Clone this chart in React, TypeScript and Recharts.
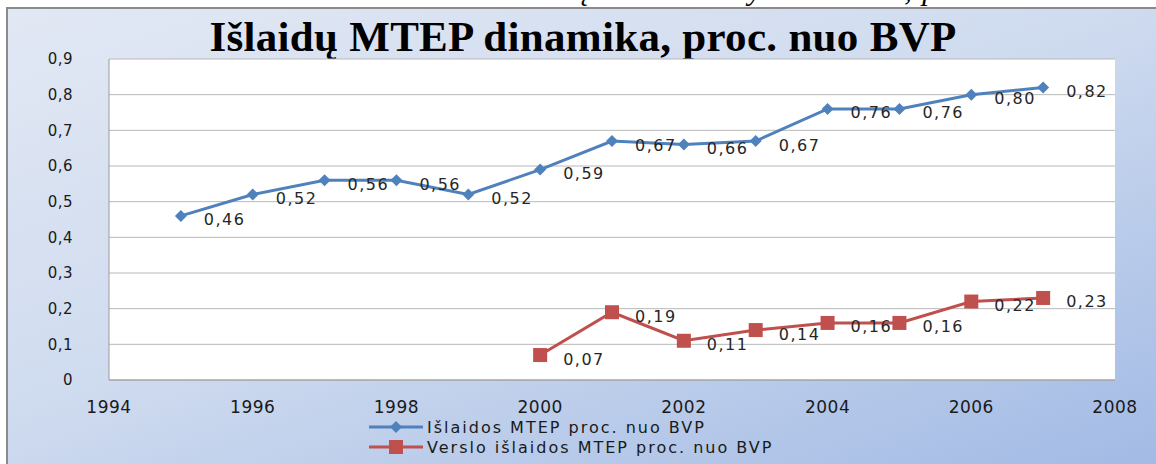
import { LineChart, Line, XAxis, YAxis, CartesianGrid } from 'recharts';

const years = [1995, 1996, 1997, 1998, 1999, 2000, 2001, 2002, 2003, 2004, 2005, 2006, 2007];
const totalShare = [0.46, 0.52, 0.56, 0.56, 0.52, 0.59, 0.67, 0.66, 0.67, 0.76, 0.76, 0.8, 0.82];
const businessShare = [null, null, null, null, null, 0.07, 0.19, 0.11, 0.14, 0.16, 0.16, 0.22, 0.23];
const xTicks = [1994, 1996, 1998, 2000, 2002, 2004, 2006, 2008];
const yTicks = [0, 0.1, 0.2, 0.3, 0.4, 0.5, 0.6, 0.7, 0.8, 0.9];
const seriesNames = ['Išlaidos MTEP proc. nuo BVP', 'Verslo išlaidos MTEP proc. nuo BVP'];

const BLUE = '#4f81bd';
const RED = '#c0504d';
const FONT = '"DejaVu Sans", Verdana, sans-serif';

const data = years.map((year, i) => ({ year, total: totalShare[i], business: businessShare[i] }));

const comma = (v: number, digits: number) => v.toFixed(digits).replace('.', ',');

function Diamond({ cx, cy, fill }: any) {
  return <path d={`M${cx},${cy - 6} L${cx + 6},${cy} L${cx},${cy + 6} L${cx - 6},${cy} Z`} fill={fill} />;
}

function Square({ cx, cy, fill }: any) {
  return <rect x={cx - 7} y={cy - 7} width={14} height={14} fill={fill} />;
}

const renderDiamond = (props: any) =>
  props.value == null ? <g key={props.index} /> : <Diamond key={props.index} cx={props.cx} cy={props.cy} fill={BLUE} />;

const renderSquare = (props: any) =>
  props.value == null ? <g key={props.index} /> : <Square key={props.index} cx={props.cx} cy={props.cy} fill={RED} />;

const renderLabel = (props: any) => {
  const { x, y, value, index } = props;
  if (value == null || x == null || y == null) return <g key={index} />;
  return (
    <text
      key={index}
      x={x + 23}
      y={y + 5}
      fontSize={16}
      letterSpacing={1.5}
      fontFamily={FONT}
      fill="#262626"
      dominantBaseline="middle"
    >
      {comma(value, 2)}
    </text>
  );
};

function LegendBox() {
  const rows = [
    { name: seriesNames[0], color: BLUE, square: false },
    { name: seriesNames[1], color: RED, square: true },
  ];
  return (
    <div
      style={{
        position: 'absolute',
        left: 369,
        top: 417,
        fontFamily: FONT,
        fontSize: 16,
        letterSpacing: 2,
        color: '#1a1a1a',
      }}
    >
      {rows.map((r) => (
        <div key={r.name} style={{ display: 'flex', alignItems: 'center', height: 20, whiteSpace: 'nowrap' }}>
          <svg width={58} height={20}>
            <line x1={0} y1={10} x2={54} y2={10} stroke={r.color} strokeWidth={3} />
            {r.square ? <Square cx={27} cy={10} fill={r.color} /> : <Diamond cx={27} cy={10} fill={r.color} />}
          </svg>
          <span>{r.name}</span>
        </div>
      ))}
    </div>
  );
}

export default function App() {
  return (
    <div style={{ position: 'absolute', left: 0, top: 0, width: 1156, height: 464, overflow: 'hidden', background: '#fff' }}>
      <div
        style={{
          position: 'absolute',
          left: 0,
          width: 1166,
          top: -27,
          textAlign: 'center',
          fontFamily: '"Liberation Serif", serif',
          fontStyle: 'italic',
          fontSize: 30,
          letterSpacing: 1.5,
          whiteSpace: 'nowrap',
        }}
      >
        13 Paveikslas. Lietuva. Išlaidų MTEP santykis su BVP, proc.
      </div>
      <div
        style={{
          position: 'absolute',
          left: 6,
          top: 7,
          width: 1170,
          height: 480,
          border: '2px solid #8a8a8a',
          background: 'linear-gradient(160deg, #e2e8f4 0%, #cfdbef 45%, #9fb8e4 100%)',
        }}
      />
      <div
        style={{
          position: 'absolute',
          left: 0,
          width: 1166,
          top: 12,
          textAlign: 'center',
          fontFamily: '"Liberation Serif", serif',
          fontWeight: 'bold',
          fontSize: 43,
          letterSpacing: 0.3,
          whiteSpace: 'nowrap',
        }}
      >
        Išlaidų MTEP dinamika, proc. nuo BVP
      </div>
      <div style={{ position: 'absolute', left: 0, top: 0 }}>
        <LineChart width={1156} height={464} data={data} margin={{ top: 59, right: 41, bottom: 54, left: 0 }}>
          <CartesianGrid vertical={false} stroke="#b8b8b8" fill="#ffffff" />
          <XAxis
            dataKey="year"
            type="number"
            domain={[1994, 2008]}
            ticks={xTicks}
            axisLine={{ stroke: '#9a9a9a' }}
            tickLine={false}
            tickMargin={15}
            height={30}
            tick={{ fontSize: 17, fill: '#1a1a1a', fontFamily: FONT, letterSpacing: 0.5 }}
          />
          <YAxis
            domain={[0, 0.9]}
            ticks={yTicks}
            width={109}
            axisLine={{ stroke: '#9a9a9a' }}
            tickLine={false}
            tickMargin={30}
            tick={{ fontSize: 15, fill: '#1a1a1a', fontFamily: FONT, letterSpacing: 0.5 }}
            tickFormatter={(v: number) => (v === 0 ? '0' : comma(v, 1))}
          />
          <Line
            dataKey="total"
            name={seriesNames[0]}
            stroke={BLUE}
            strokeWidth={3}
            dot={renderDiamond}
            label={renderLabel}
            isAnimationActive={false}
          />
          <Line
            dataKey="business"
            name={seriesNames[1]}
            stroke={RED}
            strokeWidth={3}
            dot={renderSquare}
            label={renderLabel}
            isAnimationActive={false}
          />
        </LineChart>
      </div>
      <LegendBox />
    </div>
  );
}
